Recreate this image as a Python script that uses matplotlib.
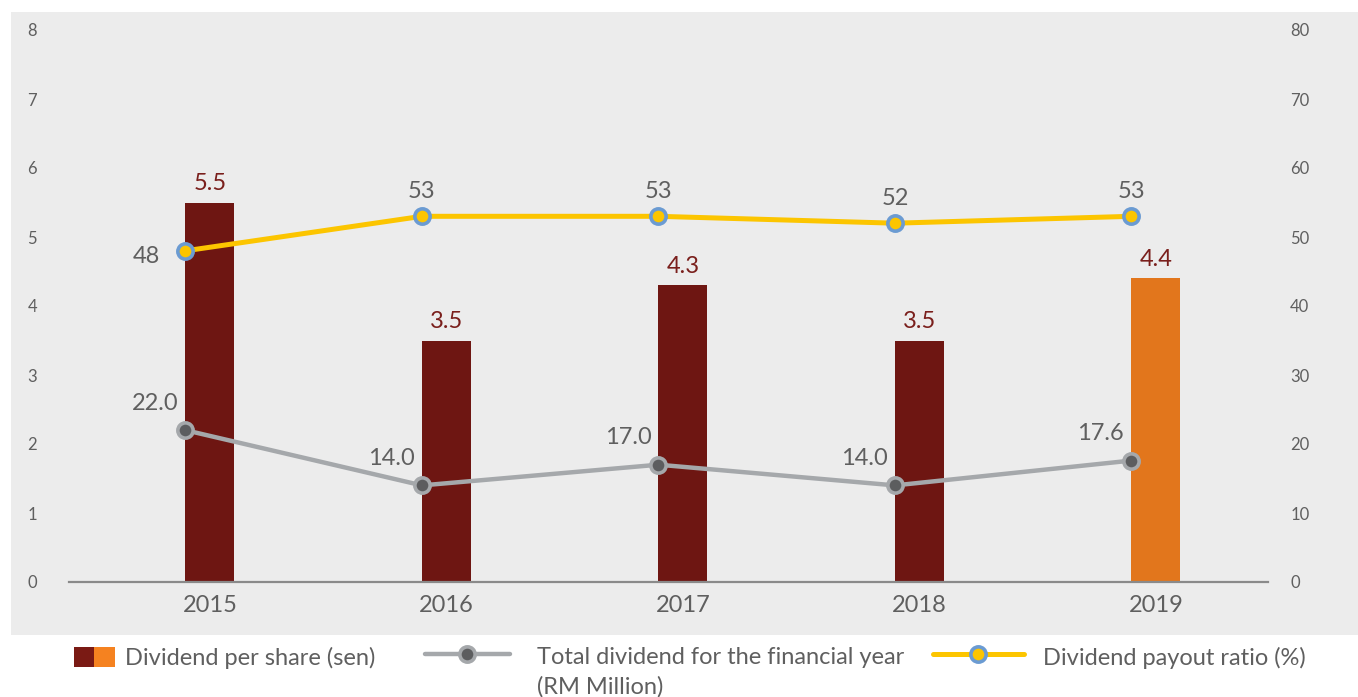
import matplotlib
matplotlib.use("Agg")
import matplotlib.pyplot as plt
from matplotlib.patches import Rectangle
from matplotlib.lines import Line2D
import numpy as np

plt.rcParams['font.family'] = ['Lato', 'DejaVu Sans']

years = ["2015", "2016", "2017", "2018", "2019"]
dps_sen = [5.5, 3.5, 4.3, 3.5, 4.4]
total_dividend_rm_mil = [22.0, 14.0, 17.0, 14.0, 17.6]
payout_ratio_pct = [48, 53, 53, 52, 53]

left_ticks = list(range(0, 9))
right_ticks = list(range(0, 81, 10))

DARK_RED = "#6e1612"
ORANGE = "#e2761c"
LABEL_RED = "#7a1f1c"
GREY_LINE = "#a5a8ab"
GREY_DOT = "#5c5d5f"
YELLOW = "#fcc500"
BLUE_RING = "#6b9bd2"
TEXT_GREY = "#5f5f5f"
PANEL = "#ececec"
FS = 17

W, H = 1358, 697
fig = plt.figure(figsize=(W / 100, H / 100), dpi=100)
fig.patch.set_facecolor("white")

# light grey panel behind the plot
fig.add_artist(Rectangle((11 / W, 1 - 635 / H), (W - 11) / W, (635 - 12) / H,
                         transform=fig.transFigure, facecolor=PANEL,
                         edgecolor="none", zorder=0))

ax_l, ax_r, ax_t, ax_b = 69, 1268, 30, 582
ax = fig.add_axes([ax_l / W, 1 - ax_b / H, (ax_r - ax_l) / W, (ax_b - ax_t) / H])
ax.set_facecolor("none")
ax2 = ax.twinx()
ax2.set_facecolor("none")

x = np.arange(len(years))
bar_w = 0.207
ax.set_xlim(-0.596, 4.474)
ax.set_ylim(0, 8)
ax2.set_ylim(0, 80)

colors = [DARK_RED] * 4 + [ORANGE]
ax.bar(x, dps_sen, width=bar_w, color=colors, zorder=2)
for xi, v in zip(x, dps_sen):
    ax.annotate(f"{v:.1f}", (xi, v), xytext=(0, 6), textcoords="offset points",
                ha="center", va="bottom", fontsize=FS, color=LABEL_RED)

xm = x - bar_w / 2
ax2.plot(xm, total_dividend_rm_mil, color=GREY_LINE, lw=3.2, marker="o",
         ms=11, mfc=GREY_DOT, mec=GREY_LINE, mew=2.6, zorder=3,
         solid_capstyle="round")
for xi, v in zip(xm, total_dividend_rm_mil):
    ax2.annotate(f"{v:.1f}", (xi, v), xytext=(-22, 12), textcoords="offset points",
                 ha="center", va="bottom", fontsize=FS, color=TEXT_GREY)

ax2.plot(xm, payout_ratio_pct, color=YELLOW, lw=3.6, marker="o",
         ms=11, mfc=YELLOW, mec=BLUE_RING, mew=2.6, zorder=4,
         solid_capstyle="round")
for i, (xi, v) in enumerate(zip(xm, payout_ratio_pct)):
    if i == 0:
        ax2.annotate(f"{v}", (xi, v), xytext=(-28, -4), textcoords="offset points",
                     ha="center", va="center", fontsize=FS, color=TEXT_GREY)
    else:
        ax2.annotate(f"{v}", (xi, v), xytext=(0, 10), textcoords="offset points",
                     ha="center", va="bottom", fontsize=FS, color=TEXT_GREY)

ax.set_xticks(x)
ax.set_xticklabels(years, fontsize=FS, color=TEXT_GREY)
ax.set_yticks(left_ticks)
ax.set_yticklabels([str(t) for t in left_ticks], fontsize=12, color=TEXT_GREY)
ax2.set_yticks(right_ticks)
ax2.set_yticklabels([str(t) for t in right_ticks], fontsize=12, color=TEXT_GREY)
ax.tick_params(axis="x", length=0, pad=9)
ax.tick_params(axis="y", length=0, pad=23)
ax2.tick_params(axis="y", length=0, pad=16)
for a in (ax, ax2):
    for s in a.spines.values():
        s.set_visible(False)
ax.spines["bottom"].set_visible(True)
ax.spines["bottom"].set_color("#8a8a8a")
ax.spines["bottom"].set_linewidth(1.6)


def fx(px):
    return px / W


def fy(py):
    return 1 - py / H


# legend drawn in figure coordinates
fig.add_artist(Rectangle((fx(74), fy(667)), 20 / W, 20 / H, transform=fig.transFigure,
                         facecolor="#7a1a14", edgecolor="none"))
fig.add_artist(Rectangle((fx(94), fy(667)), 21 / W, 20 / H, transform=fig.transFigure,
                         facecolor="#f58220", edgecolor="none"))
fig.text(fx(125), fy(658), "Dividend per share (sen)", fontsize=FS,
         color=TEXT_GREY, va="center", ha="left")

fig.add_artist(Line2D([fx(425), fx(510)], [fy(654), fy(654)], transform=fig.transFigure,
                      color=GREY_LINE, lw=3.2, solid_capstyle="round"))
fig.add_artist(Line2D([fx(467)], [fy(654)], transform=fig.transFigure, marker="o",
                      ms=11, mfc=GREY_DOT, mec=GREY_LINE, mew=2.6))
fig.text(fx(537), fy(658), "Total dividend for the financial year", fontsize=FS,
         color=TEXT_GREY, va="center", ha="left")
fig.text(fx(537), fy(687), "(RM Million)", fontsize=FS,
         color=TEXT_GREY, va="center", ha="left")

fig.add_artist(Line2D([fx(933), fx(1024)], [fy(654), fy(654)], transform=fig.transFigure,
                      color=YELLOW, lw=3.6, solid_capstyle="round"))
fig.add_artist(Line2D([fx(978)], [fy(654)], transform=fig.transFigure, marker="o",
                      ms=11, mfc=YELLOW, mec=BLUE_RING, mew=2.6))
fig.text(fx(1043), fy(658), "Dividend payout ratio (%)", fontsize=FS,
         color=TEXT_GREY, va="center", ha="left")

fig.savefig("out.png", dpi=100)
